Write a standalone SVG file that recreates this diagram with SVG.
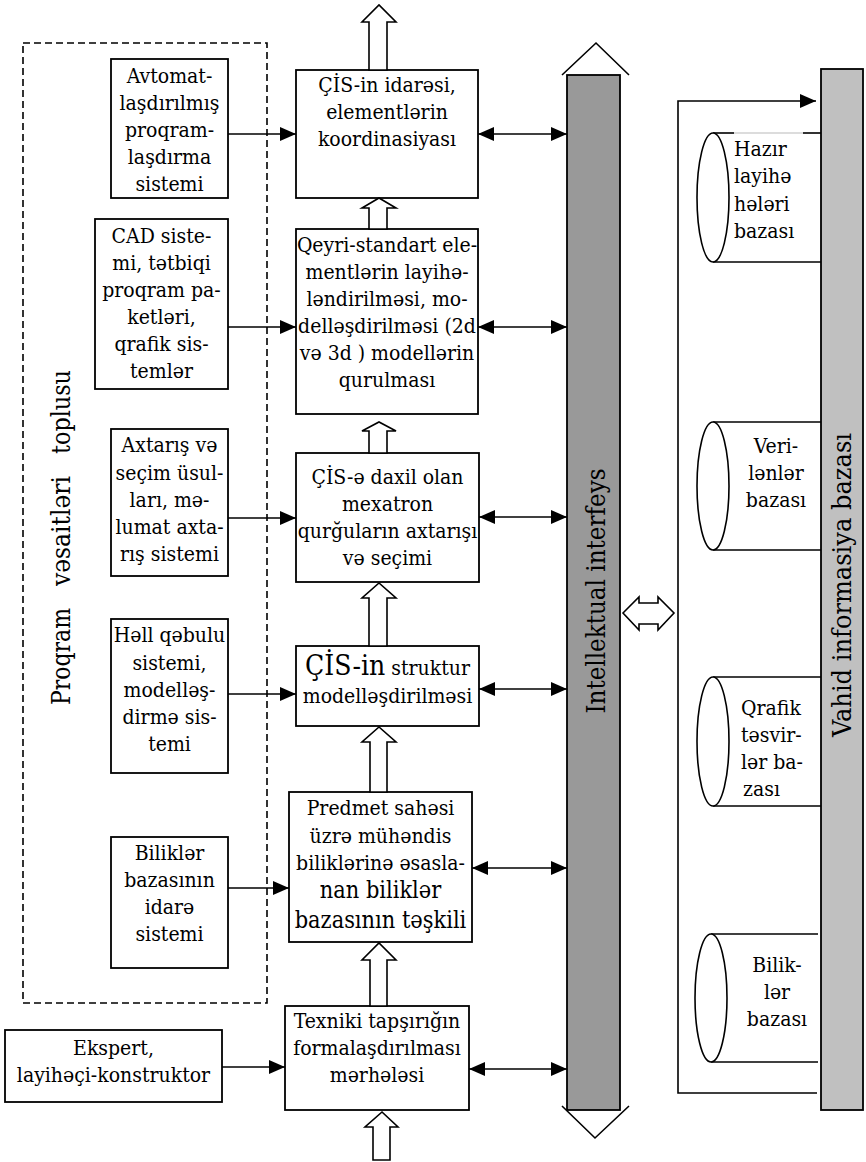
<svg xmlns="http://www.w3.org/2000/svg" width="866" height="1162" viewBox="0 0 866 1162">
  <defs>
    <marker id="head" viewBox="0 0 16 14" markerUnits="userSpaceOnUse" markerWidth="16" markerHeight="14" refX="16" refY="7" orient="auto-start-reverse">
      <path d="M0,0 L16,7 L0,14 z" fill="#000"/>
    </marker>
    <style>
      text { font-family: "DejaVu Serif Condensed", "DejaVu Serif", serif; font-stretch: condensed; }
      .t { font-size: 21px; fill: #000; text-anchor: middle; }
      .tl { text-anchor: start; }
      .big { font-size: 23.3px; }
      .side { font-size: 26px; }
      .box { fill: #fff; stroke: #000; stroke-width: 1.8; }
      .line { fill: none; stroke: #000; stroke-width: 1.6; }
      .arrow { fill: none; stroke: #000; stroke-width: 1.6; marker-end: url(#head); }
      .darrow { fill: none; stroke: #000; stroke-width: 1.6; marker-start: url(#head); marker-end: url(#head); }
      .block { fill: #fff; stroke: #000; stroke-width: 1.6; stroke-linejoin: miter; }
      .cyl { fill: #fff; stroke: #000; stroke-width: 1.6; }
    </style>
  </defs>
  <rect width="866" height="1162" fill="#fff"/>

  <!-- software tools frame -->
  <g id="program-tools">
    <rect x="23" y="43" width="244" height="960" fill="none" stroke="#000" stroke-width="1.6" stroke-dasharray="7 4"/>
    <text class="t tl side" transform="translate(70,537.5) rotate(-90)"><tspan x="-167.5" textLength="97" lengthAdjust="spacingAndGlyphs">Proqram</tspan> <tspan x="-48.5" textLength="110" lengthAdjust="spacingAndGlyphs">vəsaitləri</tspan> <tspan x="83.5" textLength="84" lengthAdjust="spacingAndGlyphs">toplusu</tspan></text>
  </g>

  <!-- intelligent interface bar -->
  <g id="interface">
    <rect x="567" y="75" width="53" height="1035" fill="#999" stroke="#000" stroke-width="1.8"/>
    <polyline class="line" points="562,75 596,43 629,75"/>
    <polyline class="line" points="562,1106 595,1138 629,1106"/>
    <text class="t side" transform="translate(605,591) rotate(-90)" textLength="245" lengthAdjust="spacingAndGlyphs">Intellektual interfeys</text>
  </g>

  <!-- unified information base bar -->
  <g id="info-base">
    <rect x="821" y="69" width="42" height="1041" fill="#c0c0c0" stroke="#000" stroke-width="1.8"/>
    <text class="t side" transform="translate(851,585) rotate(-90)" textLength="304" lengthAdjust="spacingAndGlyphs">Vahid informasiya bazası</text>
  </g>

  <!-- left tool boxes -->
  <g id="auto-programming">
    <rect class="box" x="111" y="59" width="117" height="139"/>
    <text class="t" x="169.5" y="83">Avtomat-</text>
    <text class="t" x="169.5" y="110">laşdırılmış</text>
    <text class="t" x="169.5" y="137">proqram-</text>
    <text class="t" x="169.5" y="164">laşdırma</text>
    <text class="t" x="169.5" y="191">sistemi</text>
  </g>
  <g id="cad-system">
    <rect class="box" x="95" y="219" width="133" height="170"/>
    <text class="t" x="161.5" y="243">CAD siste-</text>
    <text class="t" x="161.5" y="270">mi, tətbiqi</text>
    <text class="t" x="161.5" y="297">proqram pa-</text>
    <text class="t" x="161.5" y="324">ketləri,</text>
    <text class="t" x="161.5" y="351">qrafik sis-</text>
    <text class="t" x="161.5" y="378">temlər</text>
  </g>
  <g id="search-methods">
    <rect class="box" x="111" y="429" width="117" height="147"/>
    <text class="t" x="169.5" y="452">Axtarış və</text>
    <text class="t" x="169.5" y="480">seçim üsul-</text>
    <text class="t" x="169.5" y="507">ları, mə-</text>
    <text class="t" x="169.5" y="534">lumat axta-</text>
    <text class="t" x="169.5" y="561">rış sistemi</text>
  </g>
  <g id="decision-system">
    <rect class="box" x="111" y="619" width="117" height="154"/>
    <text class="t" x="169.5" y="642">Həll qəbulu</text>
    <text class="t" x="169.5" y="670">sistemi,</text>
    <text class="t" x="169.5" y="697">modelləş-</text>
    <text class="t" x="169.5" y="724">dirmə sis-</text>
    <text class="t" x="169.5" y="751">temi</text>
  </g>
  <g id="kb-management">
    <rect class="box" x="111" y="837" width="117" height="131"/>
    <text class="t" x="169.5" y="860">Biliklər</text>
    <text class="t" x="169.5" y="887">bazasının</text>
    <text class="t" x="169.5" y="914">idarə</text>
    <text class="t" x="169.5" y="941">sistemi</text>
  </g>
  <g id="expert">
    <rect class="box" x="5" y="1030" width="217" height="72"/>
    <text class="t" x="113.5" y="1055">Ekspert,</text>
    <text class="t" x="113.5" y="1082">layihəçi-konstruktor</text>
  </g>

  <!-- central process column -->
  <g id="management">
    <rect class="box" x="296" y="70" width="182" height="128"/>
    <text class="t" x="387" y="92">ÇİS-in idarəsi,</text>
    <text class="t" x="387" y="119">elementlərin</text>
    <text class="t" x="387" y="146">koordinasiyası</text>
  </g>
  <g id="nonstandard-design">
    <rect class="box" x="296" y="229" width="182" height="185"/>
    <text class="t" x="387" y="252">Qeyri-standart ele-</text>
    <text class="t" x="387" y="279">mentlərin layihə-</text>
    <text class="t" x="387" y="306">ləndirilməsi, mo-</text>
    <text class="t" x="387" y="333">delləşdirilməsi (2d</text>
    <text class="t" x="387" y="360">və 3d ) modellərin</text>
    <text class="t" x="387" y="387">qurulması</text>
  </g>
  <g id="device-search">
    <rect class="box" x="296" y="453" width="183" height="129"/>
    <text class="t" x="387.5" y="484">ÇİS-ə daxil olan</text>
    <text class="t" x="387.5" y="511">mexatron</text>
    <text class="t" x="387.5" y="538">qurğuların axtarışı</text>
    <text class="t" x="387.5" y="565">və seçimi</text>
  </g>
  <g id="structure-modelling">
    <rect class="box" x="296" y="646" width="183" height="80"/>
    <text class="t" x="387.5" y="675"><tspan font-size="28">ÇİS-in</tspan> struktur</text>
    <text class="t" x="387.5" y="703">modelləşdirilməsi</text>
  </g>
  <g id="knowledge-base">
    <rect class="box" x="289" y="792" width="183" height="150"/>
    <text class="t" x="380.5" y="815">Predmet sahəsi</text>
    <text class="t" x="380.5" y="843">üzrə mühəndis</text>
    <text class="t" x="380.5" y="870">biliklərinə əsasla-</text>
    <text class="t big" x="380.5" y="898">nan biliklər</text>
    <text class="t big" x="380.5" y="928">bazasının təşkili</text>
  </g>
  <g id="specification">
    <rect class="box" x="285" y="1006" width="184" height="104"/>
    <text class="t" x="377" y="1028">Texniki tapşırığın</text>
    <text class="t" x="377" y="1055">formalaşdırılması</text>
    <text class="t" x="377" y="1082">mərhələsi</text>
  </g>

  <!-- database cylinders -->
  <g id="db-solutions">
    <line class="line" x1="713" y1="133" x2="734" y2="133"/>
    <line x1="734" y1="133" x2="803" y2="133" stroke="#d0d0d0" stroke-width="1.6"/>
    <line class="line" x1="803" y1="133" x2="821" y2="133"/>
    <line class="line" x1="713" y1="262" x2="821" y2="262"/>
    <ellipse class="cyl" cx="713" cy="197.5" rx="16" ry="64.5"/>
    <text class="t tl" x="734" y="156">Hazır</text>
    <text class="t tl" x="734" y="183">layihə</text>
    <text class="t tl" x="734" y="211">hələri</text>
    <text class="t tl" x="734" y="238">bazası</text>
  </g>
  <g id="db-data">
    <line class="line" x1="713" y1="422" x2="821" y2="422"/>
    <line class="line" x1="713" y1="550" x2="821" y2="550"/>
    <ellipse class="cyl" cx="713" cy="486" rx="16" ry="64"/>
    <text class="t" x="776" y="453">Veri-</text>
    <text class="t" x="776" y="480">lənlər</text>
    <text class="t" x="776" y="507">bazası</text>
  </g>
  <g id="db-graphics">
    <line class="line" x1="713" y1="677" x2="821" y2="677"/>
    <line class="line" x1="713" y1="806" x2="821" y2="806"/>
    <ellipse class="cyl" cx="713" cy="741.5" rx="16" ry="64.5"/>
    <text class="t tl" x="741" y="715">Qrafik</text>
    <text class="t tl" x="741" y="742">təsvir-</text>
    <text class="t tl" x="741" y="769">lər ba-</text>
    <text class="t tl" x="743" y="796">zası</text>
  </g>
  <g id="db-knowledge">
    <line class="line" x1="711" y1="934" x2="818" y2="934"/>
    <line class="line" x1="711" y1="1062" x2="818" y2="1062"/>
    <ellipse class="cyl" cx="711" cy="998" rx="16" ry="64"/>
    <text class="t" x="777" y="972">Bilik-</text>
    <text class="t" x="777" y="999">lər</text>
    <text class="t" x="777" y="1026">bazası</text>
  </g>

  <!-- connectors -->
  <g id="connectors">
    <!-- tools into process column -->
    <line class="arrow" x1="228" y1="134" x2="296" y2="134"/>
    <line class="arrow" x1="228" y1="327" x2="296" y2="327"/>
    <line class="arrow" x1="228" y1="518" x2="296" y2="518"/>
    <line class="arrow" x1="228" y1="694" x2="296" y2="694"/>
    <line class="arrow" x1="228" y1="888" x2="289" y2="888"/>
    <line class="arrow" x1="222" y1="1067" x2="285" y2="1067"/>

    <!-- process column to interface -->
    <line class="darrow" x1="478" y1="134" x2="567" y2="134"/>
    <line class="darrow" x1="478" y1="327" x2="567" y2="327"/>
    <line class="darrow" x1="479" y1="517" x2="567" y2="517"/>
    <line class="darrow" x1="479" y1="689" x2="567" y2="689"/>
    <line class="darrow" x1="472" y1="868" x2="567" y2="868"/>
    <line class="darrow" x1="469" y1="1069" x2="567" y2="1069"/>

    <!-- hollow flow arrows between stages -->
    <polygon class="block" points="369,70 369,22 362,22 379,5 396,22 387,22 387,70"/>
    <polygon class="block" points="369,229 369,208 362,208 379,198 396,208 387,208 387,229"/>
    <polygon class="block" points="369,453 369,431 362,431 379,422 396,431 387,431 387,453"/>
    <polygon class="block" points="369,646 369,598 362,598 379,583 396,598 387,598 387,646"/>
    <polygon class="block" points="370,792 370,742 362,742 379,727 396,742 387,742 387,792"/>
    <polygon class="block" points="370,1006 370,960 362,960 379,943 396,960 387,960 387,1006"/>
    <polygon class="block" points="373,1160 373,1127 365,1127 382,1112 398,1127 390,1127 390,1160"/>

    <!-- interface to information base -->
    <polygon class="block" points="623,613 639,597 639,603 658,603 658,597 674,613 658,630 658,624 639,624 639,630"/>
    <polyline class="line" points="817,1093 678,1093 678,101 816,101" marker-end="url(#head)"/>
  </g>
</svg>
